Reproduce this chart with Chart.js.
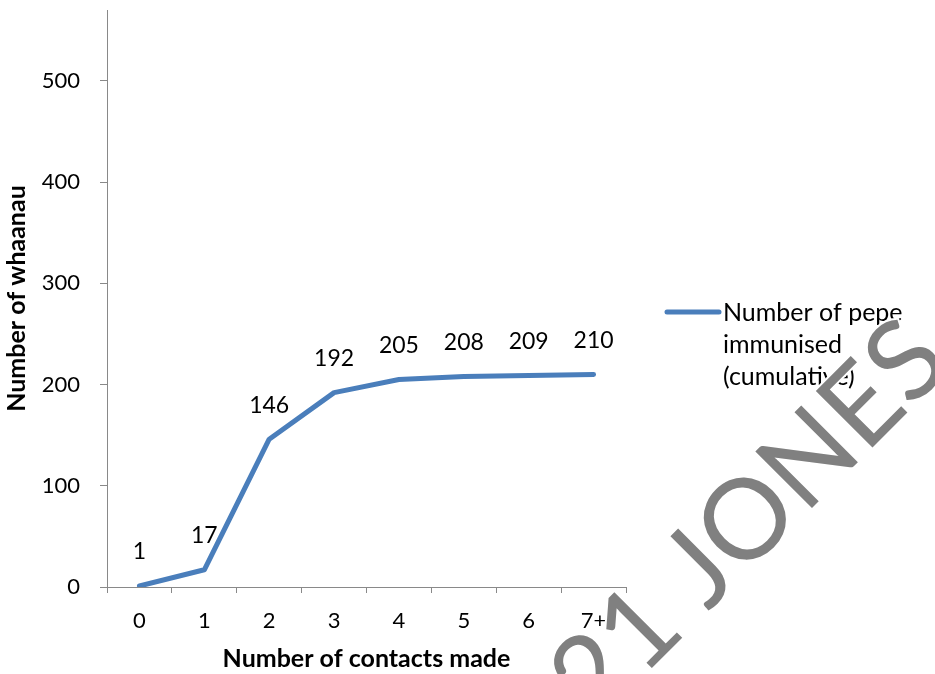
<!DOCTYPE html>
<html>
<head>
<meta charset="utf-8">
<script src="https://cdn.jsdelivr.net/npm/chart.js@4.4.1/dist/chart.umd.min.js"></script>
<style>
    html, body { margin: 0; padding: 0; background: #ffffff; }
    #wrap { width: 935px; height: 674px; }
</style>
</head>
<body>
<div id="wrap"><canvas id="contacts" width="935" height="674"></canvas></div>
<script>
// data
const contactLabels = ['0', '1', '2', '3', '4', '5', '6', '7+'];
const immunisedCounts = [1, 17, 146, 192, 205, 208, 209, 210];
const seriesName = 'Number of pepe immunised (cumulative)';
const yTickValues = [0, 100, 200, 300, 400, 500];
const yAxisMax = 570;
const xTitle = 'Number of contacts made';
const yTitle = 'Number of whaanau';
const watermarkText = '2021 JONES';

const lineBlue = '#4A7EBB';
const axisGrey = '#898989';
const fontFamily = 'Lato, "Open Sans", sans-serif';

// value labels above each point
const valueLabels = {
    id: 'valueLabels',
    afterDatasetsDraw(chart) {
        const { ctx } = chart;
        const meta = chart.getDatasetMeta(0);
        const values = chart.data.datasets[0].data;
        ctx.save();
        ctx.font = `23px ${fontFamily}`;
        ctx.fillStyle = '#000000';
        ctx.textAlign = 'center';
        ctx.textBaseline = 'middle';
        meta.data.forEach((pt, i) => {
            ctx.fillText(String(values[i]), pt.x, pt.y - 34);
        });
        ctx.restore();
    }
};

// legend on the right, text wrapped like the original
const sideLegend = {
    id: 'sideLegend',
    afterDraw(chart) {
        const { ctx, chartArea } = chart;
        const ds = chart.data.datasets[0];
        const x0 = chartArea.right + 41;
        const yLine = 312;
        ctx.save();
        ctx.strokeStyle = ds.borderColor;
        ctx.lineWidth = 5;
        ctx.lineCap = 'round';
        ctx.beginPath();
        ctx.moveTo(x0, yLine);
        ctx.lineTo(x0 + 52, yLine);
        ctx.stroke();

        ctx.font = `25px ${fontFamily}`;
        ctx.fillStyle = '#000000';
        ctx.textAlign = 'left';
        ctx.textBaseline = 'alphabetic';
        const maxW = 200;
        const lines = [];
        let cur = '';
        ds.label.split(' ').forEach((w) => {
            const test = cur ? cur + ' ' + w : w;
            if (ctx.measureText(test).width > maxW && cur) {
                lines.push(cur);
                cur = w;
            } else {
                cur = test;
            }
        });
        if (cur) lines.push(cur);
        lines.forEach((line, i) => {
            ctx.fillText(line, x0 + 56, 321 + i * 32);
        });
        ctx.restore();
    }
};

// diagonal watermark drawn over everything
// baseline runs along x + y = 1320, O centred near s=160 and S near s=385
const watermark = {
    id: 'watermark',
    afterDraw(chart) {
        const { ctx } = chart;
        ctx.save();
        const w = (s) => ctx.measureText(s).width;
        ctx.font = `400 100px ${fontFamily}`;
        let sO = w('2021 J') + w('O') / 2;
        let sS = w('2021 JONE') + w('S') / 2;
        const size = 100 * 225 / (sS - sO);
        ctx.font = `400 ${size}px ${fontFamily}`;
        sO = w('2021 J') + w('O') / 2;
        sS = w('2021 JONE') + w('S') / 2;
        const s0 = 272.5 - (sO + sS) / 2;
        const ox = (1320 + s0 * Math.SQRT2) / 2;
        const oy = (1320 - s0 * Math.SQRT2) / 2;
        ctx.translate(ox, oy);
        ctx.rotate(-Math.PI / 4);
        ctx.textAlign = 'left';
        ctx.textBaseline = 'alphabetic';
        ctx.lineJoin = 'round';
        ctx.strokeStyle = '#ffffff';
        ctx.lineWidth = 4;
        ctx.strokeText(watermarkText, 0, 0);
        ctx.fillStyle = '#808080';
        ctx.fillText(watermarkText, 0, 0);
        ctx.restore();
    }
};

const ctxEl = document.getElementById('contacts');

const contactsChart = new Chart(ctxEl, {
    type: 'line',
    data: {
        labels: contactLabels,
        datasets: [
            {
                label: seriesName,
                data: immunisedCounts,
                borderColor: lineBlue,
                backgroundColor: lineBlue,
                borderWidth: 5,
                borderCapStyle: 'round',
                borderJoinStyle: 'round',
                pointRadius: 0,
                pointHoverRadius: 0,
                tension: 0
            }
        ]
    },
    options: {
        responsive: false,
        animation: false,
        devicePixelRatio: 1,
        layout: {
            autoPadding: false,
            padding: { top: 10, right: 309, bottom: 0, left: 0 }
        },
        plugins: {
            legend: { display: false },
            tooltip: { enabled: false }
        },
        scales: {
            x: {
                type: 'category',
                offset: true,
                grid: {
                    offset: true,
                    drawOnChartArea: false,
                    drawTicks: true,
                    tickLength: 6,
                    color: axisGrey,
                    lineWidth: 1
                },
                border: { color: axisGrey, width: 1 },
                ticks: {
                    color: '#000000',
                    font: { family: fontFamily, size: 22 },
                    padding: 15,
                    maxRotation: 0,
                    autoSkip: false
                },
                title: {
                    display: true,
                    text: xTitle,
                    color: '#000000',
                    font: { family: fontFamily, size: 25, weight: 'bold' },
                    padding: { top: 0, bottom: 0 }
                },
                afterFit(scale) {
                    scale.height = 87;
                    scale.paddingLeft = 0;
                    scale.paddingRight = 0;
                }
            },
            y: {
                min: 0,
                max: yAxisMax,
                afterBuildTicks(scale) {
                    scale.ticks = yTickValues.map((v) => ({ value: v }));
                },
                grid: {
                    drawOnChartArea: false,
                    drawTicks: true,
                    tickLength: 7,
                    color: axisGrey,
                    lineWidth: 1
                },
                border: { color: axisGrey, width: 1 },
                ticks: {
                    color: '#000000',
                    font: { family: fontFamily, size: 22 },
                    padding: 20
                },
                title: {
                    display: true,
                    text: yTitle,
                    color: '#000000',
                    font: { family: fontFamily, size: 25, weight: 'bold' },
                    padding: { top: 2, bottom: 0 }
                },
                afterFit(scale) {
                    scale.width = 107;
                    scale.paddingTop = 0;
                    scale.paddingBottom = 0;
                }
            }
        }
    },
    plugins: [valueLabels, sideLegend, watermark]
});
</script>
</body>
</html>
